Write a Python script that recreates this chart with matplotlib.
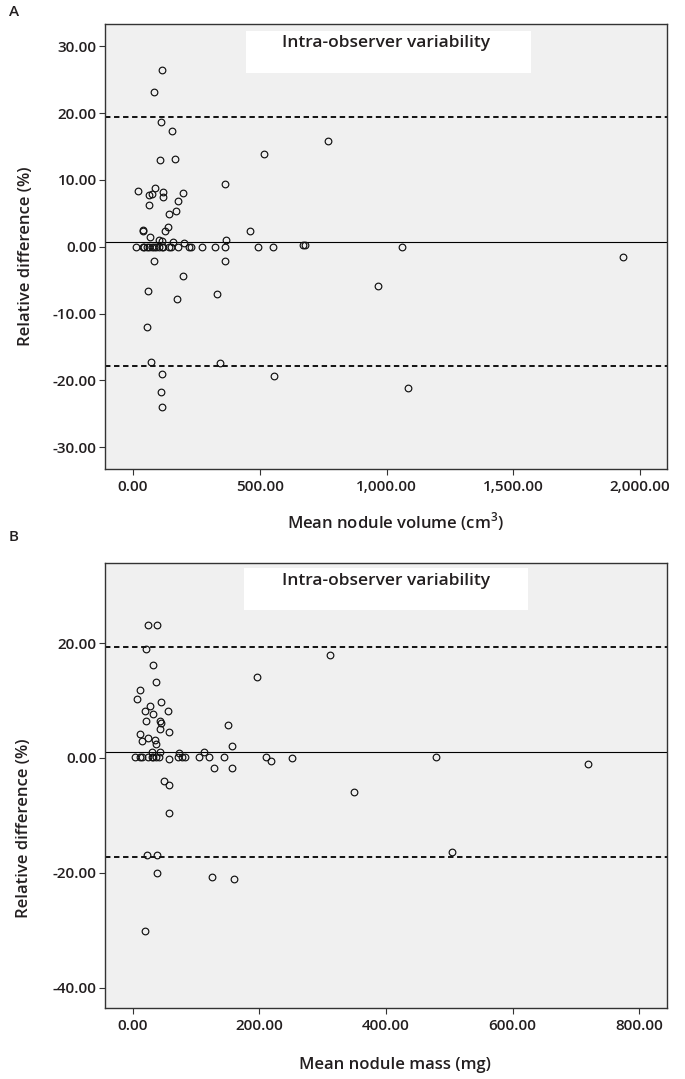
import matplotlib
matplotlib.use('Agg')
import matplotlib.pyplot as plt
from matplotlib.ticker import FuncFormatter, FixedLocator
from matplotlib.patches import Rectangle

plt.rcParams['font.family'] = ['Open Sans', 'DejaVu Sans']
plt.rcParams['mathtext.fontset'] = 'custom'
plt.rcParams['mathtext.rm'] = 'Open Sans:semibold'

TEXT = '#231f20'

# ---------------- Panel A: volume ----------------
vol_x = [116, 83, 109, 153, 769, 515, 105, 165, 362, 22, 88, 63, 75, 120, 118, 197,
         176, 63, 170, 142, 138, 126, 38, 39, 462, 67, 104, 114, 159, 201, 366,
         11, 38, 45, 54, 63, 74, 83, 93, 104, 113, 119, 142, 149, 176, 222, 228,
         272, 322, 362, 495, 551, 1063, 672, 680,
         84, 362, 196, 58, 330, 174, 968, 1932, 55, 72, 345, 113, 558, 111, 113, 1083]
vol_y = [26.4, 23.2, 18.7, 17.3, 15.9, 13.9, 13.0, 13.2, 9.35, 8.4, 8.85, 7.7, 7.9, 8.2, 7.5, 8.1,
         6.8, 6.2, 5.3, 4.9, 2.9, 2.4, 2.5, 2.4, 2.4, 1.5, 1.0, 0.9, 0.75, 0.6, 0.95,
         0, 0, 0, 0, 0, 0, 0, 0, 0, 0, 0, 0, 0, 0, 0, 0,
         0, 0, 0, 0, 0, 0, 0.3, 0.3,
         -2.2, -2.1, -4.4, -6.6, -7.1, -7.8, -5.9, -1.5, -12.0, -17.3, -17.4, -19.0, -19.4, -21.8, -24.0, -21.2]
vol_mean = 0.75
vol_upper = 19.4
vol_lower = -17.8
vol_xticks = [0, 500, 1000, 1500, 2000]
vol_yticks = [-30, -20, -10, 0, 10, 20, 30]

# ---------------- Panel B: mass ----------------
mass_x = [23.6, 38.9, 20.5, 32, 312, 37.3, 196.5, 10.5, 6.8, 26.8, 44, 18.9, 32, 55, 20.5, 42.6,
          45, 43.6, 57, 151, 11, 15, 24.7, 34.7, 36, 157, 42.6, 30, 113, 73,
          2.7, 12, 15, 24, 29.5, 32, 37, 41.6, 71, 77, 82, 104.5, 121, 144.5, 211, 479.6, 251.6,
          217.5, 57, 127.7, 156.5, 50, 57.8, 348.8, 57, 719.7, 22.6, 38.9, 38.9, 125, 159.7, 18.9, 505]
mass_y = [23.1, 23.1, 18.9, 16.1, 18.0, 13.3, 14.1, 11.9, 10.2, 9.0, 9.7, 8.1, 7.7, 8.2, 6.4, 6.5,
          6.1, 5.1, 4.5, 5.7, 4.2, 2.9, 3.4, 3.15, 2.45, 2.0, 0.95, 1.0, 1.06, 0.8,
          0.2, 0.2, 0.2, 0.2, 0.2, 0.2, 0.2, 0.2, 0.2, 0.2, 0.2, 0.2, 0.2, 0.2, 0.2, 0.2, 0.0,
          -0.5, -0.1, -1.7, -1.7, -4.0, -4.7, -6.0, -9.6, -1.0, -16.9, -16.9, -20.1, -20.8, -21.0, -30.2, -16.3]
mass_mean = 1.0
mass_upper = 19.4
mass_lower = -17.2
mass_xticks = [0, 200, 400, 600, 800]
mass_yticks = [-40, -20, 0, 20]

fig = plt.figure(figsize=(6.85, 10.79), dpi=100)
axA = fig.add_axes([0.1533, 0.5658, 0.8204, 0.412])
axB = fig.add_axes([0.1533, 0.0655, 0.8204, 0.413])


def panel(ax, x, y, mean, upper, lower, xticks, yticks, xlim, ylim, box):
    ax.set_facecolor('#f0f0f0')
    ax.axhline(upper, color='black', lw=1.3, ls=(0, (3, 2)), zorder=2)
    ax.axhline(lower, color='black', lw=1.3, ls=(0, (3, 2)), zorder=2)
    ax.axhline(mean, color='black', lw=0.8, zorder=2)
    ax.plot(x, y, ls='none', marker='o', ms=4.8, mfc='none', mec='#111111', mew=0.85, zorder=3)
    ax.set_xlim(*xlim)
    ax.set_ylim(*ylim)
    ax.xaxis.set_major_locator(FixedLocator(xticks))
    ax.yaxis.set_major_locator(FixedLocator(yticks))
    ax.xaxis.set_major_formatter(FuncFormatter(lambda v, p: f"{v:,.2f}"))
    ax.yaxis.set_major_formatter(FuncFormatter(lambda v, p: f"{v:.2f}"))
    ax.tick_params(axis='both', direction='out', length=4, width=0.8, color='#333333',
                   labelsize=11, labelcolor=TEXT, pad=2)
    ax.tick_params(axis='x', pad=4)
    for lab in ax.get_xticklabels() + ax.get_yticklabels():
        lab.set_fontweight('semibold')
    for s in ax.spines.values():
        s.set_visible(True)
        s.set_color('#333333')
        s.set_linewidth(1.0)
    x0, y0, x1, y1 = box
    ax.add_patch(Rectangle((x0, y0), x1 - x0, y1 - y0, transform=ax.transAxes,
                           facecolor='white', edgecolor='none', zorder=4))
    ax.text(0.5, y1 - 0.028, 'Intra-observer variability', transform=ax.transAxes,
            ha='center', va='center', fontsize=12.5, fontweight='semibold', color=TEXT, zorder=5)


panel(axA, vol_x, vol_y, vol_mean, vol_upper, vol_lower, vol_xticks, vol_yticks,
      (-110, 2106), (-33.2, 33.35), (0.251, 0.8904, 0.758, 0.9843))
panel(axB, mass_x, mass_y, mass_mean, mass_upper, mass_lower, mass_xticks, mass_yticks,
      (-44, 844), (-43.6, 34.0), (0.247, 0.8939, 0.7526, 0.9874))

H = 1079.0
W = 685.0
fig.text(14 / W, 1 - 12 / H, 'A', ha='center', va='center', fontsize=11, fontweight='semibold', color=TEXT)
fig.text(14 / W, 1 - 537 / H, 'B', ha='center', va='center', fontsize=11, fontweight='semibold', color=TEXT)
fig.text(26 / W, 1 - 256 / H, 'Relative difference (%)', rotation=90, ha='center', va='center',
         fontsize=12, fontweight='semibold', color=TEXT)
fig.text(24 / W, 1 - 828 / H, 'Relative difference (%)', rotation=90, ha='center', va='center',
         fontsize=12, fontweight='semibold', color=TEXT)
fig.text(395 / W, 1 - 522 / H, r'Mean nodule volume (cm$^{3}$)', ha='center', va='center',
         fontsize=12, fontweight='semibold', color=TEXT)
fig.text(395 / W, 1 - 1065 / H, 'Mean nodule mass (mg)', ha='center', va='center',
         fontsize=12, fontweight='semibold', color=TEXT)

fig.savefig('out.png', dpi=100, facecolor='white')
